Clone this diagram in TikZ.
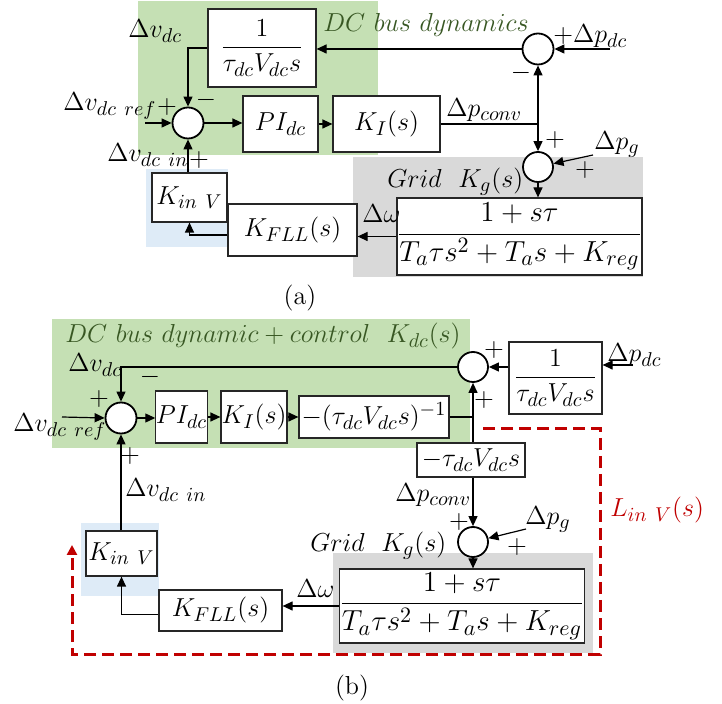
\documentclass[tikz,border=0pt]{standalone}
\usepackage{fix-cm}
\usepackage{amsmath}
\usetikzlibrary{arrows.meta}
\DeclareMathSizes{13}{13}{10}{7.5}
\DeclareMathSizes{14.5}{14.5}{11}{8}
\definecolor{gfill}{HTML}{C5E0B4}
\definecolor{gtext}{HTML}{385723}
\definecolor{greyfill}{HTML}{D9D9D9}
\definecolor{bfill}{HTML}{DEEBF7}
\definecolor{loopred}{HTML}{C00000}
\newcommand{\bigfrac}[2]{{\fontsize{14.5}{16}\selectfont$\displaystyle\frac{#1}{#2}$}}
\begin{document}
\begin{tikzpicture}[x=0.5pt,y=-0.5pt,
  font=\fontsize{13}{15}\selectfont,
  >={Triangle[length=5pt,width=4.5pt]},
  blk/.style={draw=black!85, line width=0.6pt, fill=white, inner sep=0pt, align=center},
  sumnode/.style={circle, draw, line width=0.9pt, fill=white, minimum size=15.5pt, inner sep=0pt},
  conn/.style={line width=0.6pt},
  lbl/.style={inner sep=0pt, anchor=base west},
  sgn/.style={inner sep=0pt},
  ttl/.style={inner sep=0pt, anchor=base west, text=gtext},
  captext/.style={inner sep=0pt},
  redloop/.style={draw=loopred, line width=1.5pt, dash pattern=on 6pt off 3pt, line cap=butt,
     -{Triangle[length=5pt,width=5pt]}}
]
\useasboundingbox (0,0) rectangle (722,704);
% ================= (a) =================
\fill[gfill] (138,1) rectangle (378,155);
\fill[bfill] (146,169) rectangle (228,247);
\fill[greyfill] (353,157) rectangle (643,277);

\node[ttl] (titleA) at (323,32) {$DC\ bus\ dynamics$};
\node[blk, minimum width=54pt, minimum height=39pt] (tauA) at (262,48) {$\dfrac{1}{\tau_{dc}V_{dc}s}$};
\node[sumnode] (sA1) at (188,123) {};
\node[blk, minimum width=37.5pt, minimum height=28pt] (piA) at (280.5,124) {$PI_{dc}$};
\node[blk, minimum width=53.5pt, minimum height=28pt] (kiA) at (386.5,124) {$K_I(s)$};
\node[sumnode] (sA0) at (538,49) {};
\node[sumnode, minimum size=15pt] (sA2) at (538,167) {};
\node[blk, minimum width=116.5pt, minimum height=38.5pt] (gridA) at (519.5,236.5) {\bigfrac{1+s\tau}{T_a\tau s^2+T_a s+K_{reg}}};
\node[blk, minimum width=64.5pt, minimum height=26pt] (kfllA) at (292.5,230) {$K_{FLL}(s)$};
\node[blk, minimum width=37.5pt, minimum height=24.5pt] (kinA) at (189.5,197.5) {$K_{in\ V}$};

\coordinate (refA) at (145,123);
\coordinate (pdcA) at (610,49);
\coordinate (pgA) at (593,155);
\coordinate (jA) at (kiA.east -| sA0);

\draw[conn,->] (sA0.west) -- (sA0.west -| tauA.east);
\draw[conn,->] (tauA.west) -| (sA1.north);
\draw[conn,->] (refA) -- (sA1.west);
\draw[conn,->] (sA1.east) -- (sA1.east -| piA.west);
\draw[conn,->] (piA.east) -- (kiA.west);
\draw[conn] (kiA.east) -- (jA);
\draw[conn,->] (jA) -- (sA0.south);
\draw[conn,->] (jA) -- (sA2.north);
\draw[conn,->] (pdcA) -- (sA0.east);
\draw[conn,->] (pgA) -- (sA2);
\draw[conn,->] (sA2.south) -- (sA2.south |- gridA.north);
\draw[conn,->] (gridA.west) -- (gridA.west -| kfllA.east);
\draw[conn,->] ([yshift=-2.5pt]kfllA.west) -| (kinA.south);
\draw[conn,->] (sA1 |- kinA.north) -- (sA1.south);

\node[lbl] (dvdcA) at (128,38) {$\Delta v_{dc}$};
\node[lbl] (dvrefA) at (63,111) {$\Delta v_{dc\ ref}$};
\node[sgn] (pA1) at (167,107) {$+$};
\node[sgn] (mA1) at (206,100) {$-$};
\node[lbl] (dvinA) at (107,162) {$\Delta v_{dc\ in}$};
\node[sgn] (pA2) at (199,160) {$+$};
\node[lbl] (dpdcA) at (553,43) {$+\Delta p_{dc}$};
\node[sgn] (mA0) at (521,73) {$-$};
\node[lbl] (dpconvA) at (446,117) {$\Delta p_{conv}$};
\node[sgn] (pA3) at (555,140) {$+$};
\node[lbl] (dpgA) at (594,150) {$\Delta p_g$};
\node[sgn] (pA4) at (585,170) {$+$};
\node[lbl] (gridlblA) at (387,188) {$Grid\ \ K_g(s)$};
\node[lbl] (dwA) at (362,223) {$\Delta\omega$};
\node[captext] (capA) at (300,298) {(a)};

% ================= (b) =================
\fill[gfill] (52,319) rectangle (470,448);
\fill[bfill] (81,523) rectangle (159,596);
\fill[greyfill] (333,553) rectangle (593,653);

\node[ttl] (titleB) at (65,343) {$DC\ bus\ dynamic+control\ \ K_{dc}(s)$};
\node[sumnode] (sB1) at (121,418) {};
\node[blk, minimum width=24.5pt, minimum height=26pt] (piB) at (181.5,417) {$PI_{dc}$};
\node[blk, minimum width=33pt, minimum height=26pt] (kiB) at (254,417) {$K_I(s)$};
\node[blk, minimum width=75pt, minimum height=21pt] (tinvB) at (374,417) {$-(\tau_{dc}V_{dc}s)^{-1}$};
\node[sumnode, minimum size=15pt] (sB0) at (473,367) {};
\node[blk, minimum width=46.5pt, minimum height=36pt] (tauB) at (555.5,378) {$\dfrac{1}{\tau_{dc}V_{dc}s}$};
\node[blk, minimum width=54pt, minimum height=17pt] (ntauB) at (471,460) {$-\tau_{dc}V_{dc}s$};
\node[sumnode, minimum size=15pt] (sB2) at (473,542) {};
\node[blk, minimum width=120pt, minimum height=37pt] (gridB) at (462,606) {\bigfrac{1+s\tau}{T_a\tau s^2+T_a s+K_{reg}}};
\node[blk, minimum width=61.5pt, minimum height=20.5pt] (kfllB) at (220.5,610.5) {$K_{FLL}(s)$};
\node[blk, minimum width=35.5pt, minimum height=22.5pt] (kinB) at (121.5,553.5) {$K_{in\ V}$};

\coordinate (refB) at (62,417);
\coordinate (pdcB) at (633,365);
\coordinate (pgB) at (526,529);
\coordinate (jB) at (tinvB.east -| sB0);

\draw[conn,->] (refB) -- (sB1.west);
\draw[conn,->] (sB1.east) -- (sB1.east -| piB.west);
\draw[conn,->] (piB.east) -- (kiB.west);
\draw[conn,->] (kiB.east) -- (tinvB.west);
\draw[conn] (tinvB.east) -- (jB);
\draw[conn,->] (sB0 |- ntauB.north) -- (sB0.south);
\draw[conn,->] (sB0.west) -| (sB1.north);
\draw[conn,->] (sB0.east -| tauB.west) -- (sB0.east);
\draw[conn,->] (pdcB) -- (pdcB -| tauB.east);
\draw[conn,->] (sB2 |- ntauB.south) -- (sB2.north);
\draw[conn,->] (pgB) -- (sB2);
\draw[conn,->] (sB2.south) -- (sB2.south |- gridB.north);
\draw[conn,->] (gridB.west) -- (gridB.west -| kfllB.east);
\draw[conn,->] ([yshift=-2pt]kfllB.west) -| (kinB.south);
\draw[conn,->] (sB1 |- kinB.north) -- (sB1.south);

\coordinate (r1) at (483,429);
\coordinate (r2) at (600,429);
\coordinate (r3) at (600,654);
\coordinate (r4) at (72,654);
\coordinate (r5) at (72,545);
\draw[redloop] (r1) -- (r2) -- (r3) -- (r4) -- (r5);

\node[lbl] (dvdcB) at (68,372) {$\Delta v_{dc}$};
\node[sgn] (mB1) at (150,377) {$-$};
\node[sgn] (pB1) at (99,399) {$+$};
\node[lbl] (dvrefB) at (13,432) {$\Delta v_{dc\ ref}$};
\node[sgn] (pB2) at (130,456) {$+$};
\node[lbl] (dvinB) at (125,497) {$\Delta v_{dc\ in}$};
\node[sgn] (pB3) at (494,350) {$+$};
\node[sgn] (pB4) at (484,400) {$+$};
\node[lbl] (dpdcB) at (607,362) {$\Delta p_{dc}$};
\node[lbl] (dpconvB) at (395,502) {$\Delta p_{conv}$};
\node[sgn] (pB5) at (459,522) {$+$};
\node[lbl] (dpgB) at (525,525) {$\Delta p_g$};
\node[sgn] (pB6) at (517,547) {$+$};
\node[lbl] (gridlblB) at (310,552) {$Grid\ \ K_g(s)$};
\node[lbl] (dwB) at (296,597) {$\Delta\omega$};
\node[lbl, text=loopred] (linvB) at (610,517) {$L_{in\ V}(s)$};
\node[captext] (capB) at (352,688) {(b)};
\end{tikzpicture}
\end{document}
